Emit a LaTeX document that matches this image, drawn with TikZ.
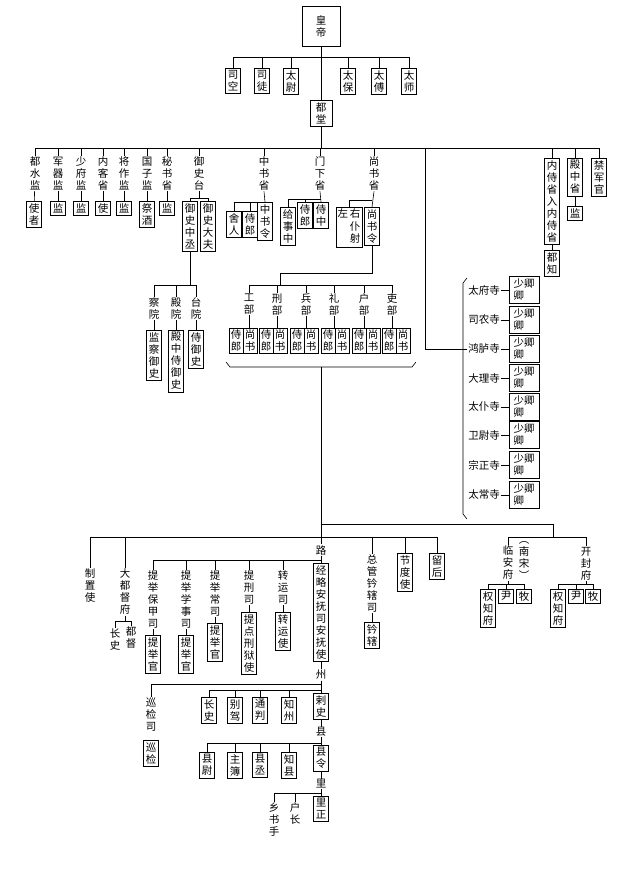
\documentclass[tikz,border=0pt]{standalone}
\usepackage{fontspec}
\newfontfamily\cjk{Noto Sans CJK SC}
\usetikzlibrary{positioning}

\begin{document}
\begin{tikzpicture}[
    x=1pt, y=-1pt, line width=0.6pt,
    box/.style={rectangle, draw, inner sep=2.2pt, minimum width=15pt, align=center, font=\cjk\fontsize{10.5}{12}\selectfont},
    lbl/.style={inner sep=0.6pt, align=center, font=\cjk\fontsize{10.5}{12}\selectfont},
    qbox/.style={box, align=left, minimum width=30pt, minimum height=27pt},
    top/.style={anchor=north}
]
\useasboundingbox (0,0) rectangle (640,870);

% Emperor and three dukes
\node[box, minimum width=38pt, minimum height=40pt] (huangdi) at (321,26) {皇\\帝};
\coordinate (b0) at (321,57);
\draw (huangdi) -- (b0);
\foreach \n/\x/\t in {sikong/233/司\\空, situ/262/司\\徒, taiwei/291/太\\尉, taibao/348/太\\保, taifu/379/太\\傅, taishi/409/太\\师}{
  \node[box, top] (\n) at (\x,68) {\t};
  \draw (\n.north) |- (b0);
}
\node[box, top, minimum width=22pt] (dutang) at (321,100) {都\\堂};
\draw (b0) -- (dutang.north);

% Central offices
\coordinate (b1) at (321,148);
\draw (dutang) -- (b1);
\foreach \n/\x/\t in {dushui/35/都\\水\\监, junqi/58/军\\器\\监, shaofu/81/少\\府\\监, neike/103/内\\客\\省, jiangzuo/124/将\\作\\监, guozi/147/国\\子\\监, mishu/167/秘\\书\\省, yushi/199/御\\史\\台, zhongshu/264/中\\书\\省, menxia/320/门\\下\\省, shangshu/374/尚\\书\\省}{
  \node[lbl, top] (\n) at (\x,156) {\t};
  \draw (\n.north) |- (b1);
}
\foreach \n/\x/\t in {neishi/552/内\\侍\\省\\入\\内\\侍\\省, dianzhong/575/殿\\中\\省, jinjun/599/禁\\军\\官}{
  \node[box, top] (\n) at (\x,158) {\t};
  \draw (\n.north) |- (b1);
}
\foreach \p/\n/\x/\t in {dushui/shizhe/34/使\\者, junqi/jian1/58/监, shaofu/jian2/81/监, neike/shi1/103/使, jiangzuo/jian3/124/监, guozi/jijiu/147/祭\\酒, mishu/jian4/167/监}{
  \node[box, top] (\n) at (\x,201) {\t};
  \draw (\p) -- (\n);
}
\node[box, top] (duzhi) at (552,250) {都\\知};
\node[box, top] (jian5) at (575,206) {监};
\draw (neishi) -- (duzhi);
\draw (dianzhong) -- (jian5);

% Yushitai
\coordinate (by) at (199,198);
\node[box, top] (zhongcheng) at (190,201) {御\\史\\中\\丞};
\node[box, top] (dafu) at (208,201) {御\\史\\大\\夫};
\draw (yushi.south) -- (by);
\draw (zhongcheng.north) |- (by);
\draw (dafu.north) |- (by);

% Zhongshu, Menxia, Shangshu
\node[box, top] (zsl) at (265,202) {中\\书\\令};
\node[box, top] (sheren) at (234,211) {舍\\人};
\node[box, top] (shilang1) at (250,211) {侍\\郎};
\draw (zhongshu.south) -- (zsl.north);
\draw (sheren.north) |- (zsl.north);
\draw (shilang1.north) |- (zsl.north);

\coordinate (bm) at (321,199);
\node[box, top] (shizhong) at (321,202) {侍\\中};
\node[box, top] (shilang2) at (305,202) {侍\\郎};
\node[box, top] (jishizhong) at (288,207) {给\\事\\中};
\draw (menxia.south) -- (shizhong.north);
\draw (shilang2.north) |- (bm);
\draw (jishizhong.north) |- (bm);

\coordinate (bs) at (372,200);
\node[box, top] (shuling) at (372,207) {尚\\书\\令};
\node[box, top, inner sep=1.5pt] (puye) at (349,207) {\begin{tabular}{@{}c@{\,}c@{}}左&右\\&仆\\&射\end{tabular}};
\draw (shangshu.south) -- (shuling.north);
\draw (puye.north) |- (bs);

% Three courts
\coordinate (bc) at (190,285);
\draw (zhongcheng.south) -- (bc);
\foreach \n/\x/\t/\m/\s in {chayuan/154/察\\院/jiancha/监\\察\\御\\史, dianyuan/176/殿\\院/dzsy/殿\\中\\侍\\御\\史, taiyuan/196/台\\院/shiyushi/侍\\御\\史}{
  \node[lbl, top] (\n) at (\x,297) {\t};
  \draw (\n.north) |- (bc);
  \node[box, top] (\m) at (\x,330) {\s};
  \draw (\n) -- (\m);
}

% Six ministries
\coordinate (bu1) at (280,273);
\coordinate (bu0) at (280,285);
\draw (shuling.south) |- (bu1) -- (bu0);
\foreach \n/\x/\l/\t in {gong/249/229/工\\部, xing/277/259/刑\\部, bing/306/290/兵\\部, li/334/321/礼\\部, hu/364/352/户\\部, libu/392/382/吏\\部}{
  \node[lbl, top] (\n) at (\x,293) {\t};
  \draw (\n.north) |- (bu0);
  \node[box, top, minimum width=14pt, inner sep=1.6pt] (\n-sl) at (\l+7,328) {侍\\郎};
  \node[box, top, minimum width=14pt, inner sep=1.6pt] (\n-ss) at (\l+21,328) {尚\\书};
  \draw (\n.south) -- (\n.south |- \n-ss.north);
}
\draw (226,362) -- (230,367) -- (412,367) -- (416,362);
\coordinate (br) at (321,367);

% Nine temples
\coordinate (hl) at (425,349);
\draw (hl) |- (b1);
\foreach \n/\y/\t in {taifus/290/太府寺, sinong/320/司农寺, honglu/349/鸿胪寺, dali/378/大理寺, taipu/407/太仆寺, weiwei/435/卫尉寺, zongzheng/465/宗正寺, taichang/495/太常寺}{
  \node[lbl] (\n) at (484,\y) {\t};
  \node[qbox] (\n-q) at (524,\y) {少卿\\卿};
  \draw (\n.east) -- (\n-q.west);
}
\draw (hl) -- (honglu.west);
\draw (467,278) -- (463,283) -- (463,514) -- (467,519);

% Local government
\coordinate (b2) at (321,524);
\coordinate (b3) at (553,537);
\draw (br) -- (b2);
\draw (b2) -| (b3);
\node[lbl, top] (linan) at (508,545) {临\\安\\府};
\node[lbl, top] (nansong) at (524,541) {︵\\南\\宋\\︶};
\node[lbl, top] (kaifeng) at (586,546) {开\\封\\府};
\draw (linan.north) |- (b3);
\draw (kaifeng.north) |- (b3);
\coordinate (bl) at (508,584);
\coordinate (bk) at (586,584);
\draw (linan.south) -- (bl);
\draw (kaifeng.south) -- (bk);
\foreach \n/\x/\t/\c in {quan1/488/权\\知\\府/bl, yin1/506/尹/bl, mu1/524/牧/bl, quan2/558/权\\知\\府/bk, yin2/576/尹/bk, mu2/593/牧/bk}{
  \node[box, top] (\n) at (\x,589) {\t};
  \draw (\n.north) |- (\c);
}

\coordinate (b4) at (321,537);
\node[lbl] (lu) at (321,550) {路};
\draw (b2) -- (lu.north);
\node[lbl, top] (zhizhi) at (90,568) {制\\置\\使};
\node[lbl, top] (dadu) at (125,568) {大\\都\\督\\府};
\node[lbl, top] (zongguan) at (372,554) {总\\管\\钤\\辖\\司};
\node[box, top] (jiedu) at (405,553) {节\\度\\使};
\node[box, top] (liuhou) at (437,553) {留\\后};
\foreach \n in {zhizhi, dadu, zongguan, jiedu, liuhou}
  \draw (\n.north) |- (b4);
\coordinate (bd) at (125,621);
\node[lbl, top] (changshi) at (115,628) {长\\史};
\node[lbl, top] (dudu) at (131,626) {都\\督};
\draw (dadu.south) -- (bd);
\draw (changshi.north) |- (bd);
\draw (dudu.north) |- (bd);
\node[box, top] (lingxia) at (372,622) {钤\\辖};
\draw (zongguan) -- (lingxia);

% Lu
\coordinate (b5) at (321,560);
\node[box, top] (jinglue) at (321,563) {经\\略\\安\\抚\\司\\安\\抚\\使};
\draw (lu.south) -- (jinglue.north);
\foreach \n/\x/\t/\m/\y/\s in {tiju1/153/提\\举\\保\\甲\\司/tjg1/635/提\\举\\官, tiju2/186/提\\举\\学\\事\\司/tjg2/635/提\\举\\官, tiju3/215/提\\举\\常\\司/tjg3/623/提\\举\\官, tixing/249/提\\刑\\司/tidian/612/提\\点\\刑\\狱\\使, zhuanyun/283/转\\运\\司/zyshi/612/转\\运\\使}{
  \node[lbl, top] (\n) at (\x,570) {\t};
  \draw (\n.north) |- (b5);
  \node[box, top] (\m) at (\x,\y) {\s};
  \draw (\n) -- (\m);
}

% Zhou
\node[lbl] (zhou) at (321,675) {州};
\coordinate (bz) at (321,684);
\coordinate (bz2) at (321,690);
\draw (jinglue.south) -- (zhou.north);
\node[box, top] (cishi) at (321,693) {剌\\史};
\draw (zhou.south) -- (cishi.north);
\node[lbl, top] (xunjiansi) at (151,697) {巡\\检\\司};
\draw (xunjiansi.north) |- (bz);
\node[box, top] (xunjian) at (151,740) {巡\\检};
\foreach \n/\x/\t in {zhangshi/209/长\\史, biejia/235/别\\驾, tongpan/260/通\\判, zhizhou/289/知\\州}{
  \node[box, top] (\n) at (\x,697) {\t};
  \draw (\n.north) |- (bz2);
}

% Xian
\node[lbl] (xian) at (321,732) {县};
\coordinate (bx) at (321,743);
\draw (cishi.south) -- (xian.north);
\node[box, top] (xianling) at (321,745) {县\\令};
\draw (xian.south) -- (xianling.north);
\foreach \n/\x/\t in {xianwei/207/县\\尉, zhubu/235/主\\簿, xiancheng/260/县\\丞, zhixian/289/知\\县}{
  \node[box, top] (\n) at (\x,752) {\t};
  \draw (\n.north) |- (bx);
}

% Li
\node[lbl] (li) at (321,784) {里};
\coordinate (bli) at (321,793);
\draw (xianling.south) -- (li.north);
\node[box, top] (lizheng) at (321,796) {里\\正};
\draw (li.south) -- (lizheng.north);
\node[lbl, top] (xiangshu) at (274,802) {乡\\书\\手};
\node[lbl, top] (huzhang) at (295,802) {户\\长};
\draw (xiangshu.north) |- (bli);
\draw (huzhang.north) |- (bli);

\end{tikzpicture}
\end{document}
